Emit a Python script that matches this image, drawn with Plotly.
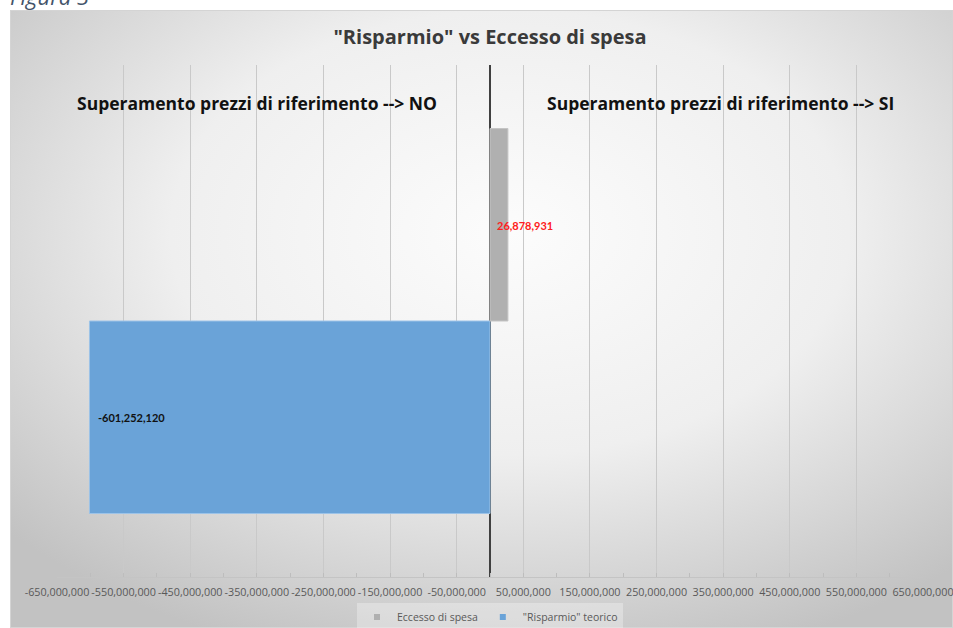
import base64
import plotly.graph_objects as go

# Series values
eccesso_label = "Eccesso di spesa"
risparmio_label = '"Risparmio" teorico'
eccesso_value = 26878931
risparmio_value = -601252120

# Axis ticks
tick_values = list(range(-650_000_000, 650_000_001, 100_000_000))
tick_labels = [f"{v:,}" for v in tick_values]

category = [""]

FONT = "Open Sans"
TEXT_GREY = "#595959"
GREY_BAR = "#b0b0b0"
BLUE_BAR = "#6aa3d8"

# Plot-area geometry in pixels (for placing the chart-area backdrop)
W, H = 953, 628
ML, MR, MT, MB = 57, 30, 65, 51
PW, PH = W - ML - MR, H - MT - MB


def px_to_paper_x(px):
    return (px - ML) / PW


def px_to_paper_y(py):
    return (H - MB - py) / PH


# Chart-area backdrop: soft radial grey gradient with a light frame
bg_w, bg_h = W - 10, H - 10
svg = (
    f'<svg xmlns="http://www.w3.org/2000/svg" width="{bg_w}" height="{bg_h}" '
    f'preserveAspectRatio="none">'
    '<defs><radialGradient id="g" cx="53%" cy="36%" r="72%">'
    '<stop offset="0" stop-color="#fcfcfc"/>'
    '<stop offset="0.5" stop-color="#efefef"/>'
    '<stop offset="1" stop-color="#c2c2c2"/>'
    '</radialGradient></defs>'
    f'<rect x="0.5" y="0.5" width="{bg_w - 1}" height="{bg_h - 1}" '
    'fill="url(#g)" stroke="#d4d4d4" stroke-width="1"/></svg>'
)
bg_src = "data:image/svg+xml;base64," + base64.b64encode(svg.encode()).decode()

fig = go.Figure()

# Trace order: blue first (lower slot), grey second (upper slot)
fig.add_trace(go.Bar(
    y=category, x=[risparmio_value], orientation="h", name=risparmio_label,
    marker=dict(color=BLUE_BAR, line=dict(color="#9cc3e8", width=1)),
    hoverinfo="x+name", showlegend=False,
))
fig.add_trace(go.Bar(
    y=category, x=[eccesso_value], orientation="h", name=eccesso_label,
    marker=dict(color=GREY_BAR, line=dict(color="#c4c4c4", width=1)),
    hoverinfo="x+name", showlegend=False,
))

# Legend entries with small square keys
for name, color in [(eccesso_label, GREY_BAR), (risparmio_label, BLUE_BAR)]:
    fig.add_trace(go.Scatter(
        x=[None], y=[None], mode="markers", name=name,
        marker=dict(symbol="square", size=6, color=color),
        hoverinfo="skip",
    ))

# Value labels
fig.add_annotation(
    x=risparmio_value, y=0, yref="y", xref="x", yshift=-96,
    text=f"<b>{risparmio_value:,}</b>", showarrow=False,
    xanchor="left", xshift=7, font=dict(family="Lato", size=11, color="#111111"),
)
fig.add_annotation(
    x=eccesso_value, y=0, yref="y", xref="x", yshift=96,
    text=f"<b>{eccesso_value:,}</b>", showarrow=False,
    xanchor="center", xshift=17, font=dict(family="Lato", size=11, color="#ff2020"),
)

# Section headers
fig.add_annotation(
    x=px_to_paper_x(257), y=px_to_paper_y(103), xref="paper", yref="paper",
    text="<b>Superamento prezzi di riferimento --> NO</b>", showarrow=False,
    xanchor="center", yanchor="middle",
    font=dict(family=FONT, size=17.5, color="#111111"),
)
fig.add_annotation(
    x=px_to_paper_x(720), y=px_to_paper_y(103), xref="paper", yref="paper",
    text="<b>Superamento prezzi di riferimento --> SI</b>", showarrow=False,
    xanchor="center", yanchor="middle",
    font=dict(family=FONT, size=17.5, color="#111111"),
)

# Figure caption above the chart area
fig.add_annotation(
    x=px_to_paper_x(8), y=px_to_paper_y(-4), xref="paper", yref="paper",
    text="<i>Figura 3</i>", showarrow=False, xanchor="left", yanchor="middle",
    font=dict(family="Open Sans", size=22, color="#44546a"),
)

fig.update_layout(
    width=W, height=H,
    margin=dict(l=ML, r=MR, t=MT, b=MB, autoexpand=False),
    paper_bgcolor="white",
    plot_bgcolor="rgba(0,0,0,0)",
    barmode="group", bargap=0.248, bargroupgap=0,
    title=dict(
        text='<b>"Risparmio" vs Eccesso di spesa</b>',
        x=0.5, xref="paper", xanchor="center",
        y=1 - 37 / H, yref="container", yanchor="middle",
        font=dict(family=FONT, size=20, color="#3a3a3a"),
    ),
    showlegend=True,
    legend=dict(
        orientation="h",
        x=0.5, xanchor="center", xref="paper",
        y=px_to_paper_y(617), yanchor="middle", yref="paper",
        bgcolor="rgba(255,255,255,0.3)",
        font=dict(family=FONT, size=10.5, color=TEXT_GREY),
        itemwidth=30, tracegroupgap=0,
    ),
    xaxis=dict(
        range=[tick_values[0], tick_values[-1]],
        tickvals=tick_values, ticktext=tick_labels, tickangle=0,
        tickfont=dict(family=FONT, size=10.8, color=TEXT_GREY),
        ticklabelstandoff=5, ticklabeloverflow="allow",
        showgrid=True, gridcolor="#c9c9c9", gridwidth=1,
        zeroline=True, zerolinecolor="#404040", zerolinewidth=2,
        showline=True, linecolor="#c4c4c4", linewidth=1,
        ticks="inside", ticklen=4, tickcolor="#bdbdbd",
        minor=dict(dtick=50_000_000, tick0=0, ticks="inside", ticklen=4,
                   tickcolor="#bdbdbd", showgrid=False),
        fixedrange=True,
    ),
    yaxis=dict(
        showticklabels=False, showgrid=False, zeroline=False,
        showline=False, ticks="", fixedrange=True,
    ),
    images=[dict(
        source=bg_src, xref="paper", yref="paper",
        x=px_to_paper_x(10), y=px_to_paper_y(10),
        sizex=(W - 10) / PW, sizey=(H - 10) / PH,
        xanchor="left", yanchor="top", sizing="stretch", layer="below",
    )],
)

fig.write_html("out.html")
